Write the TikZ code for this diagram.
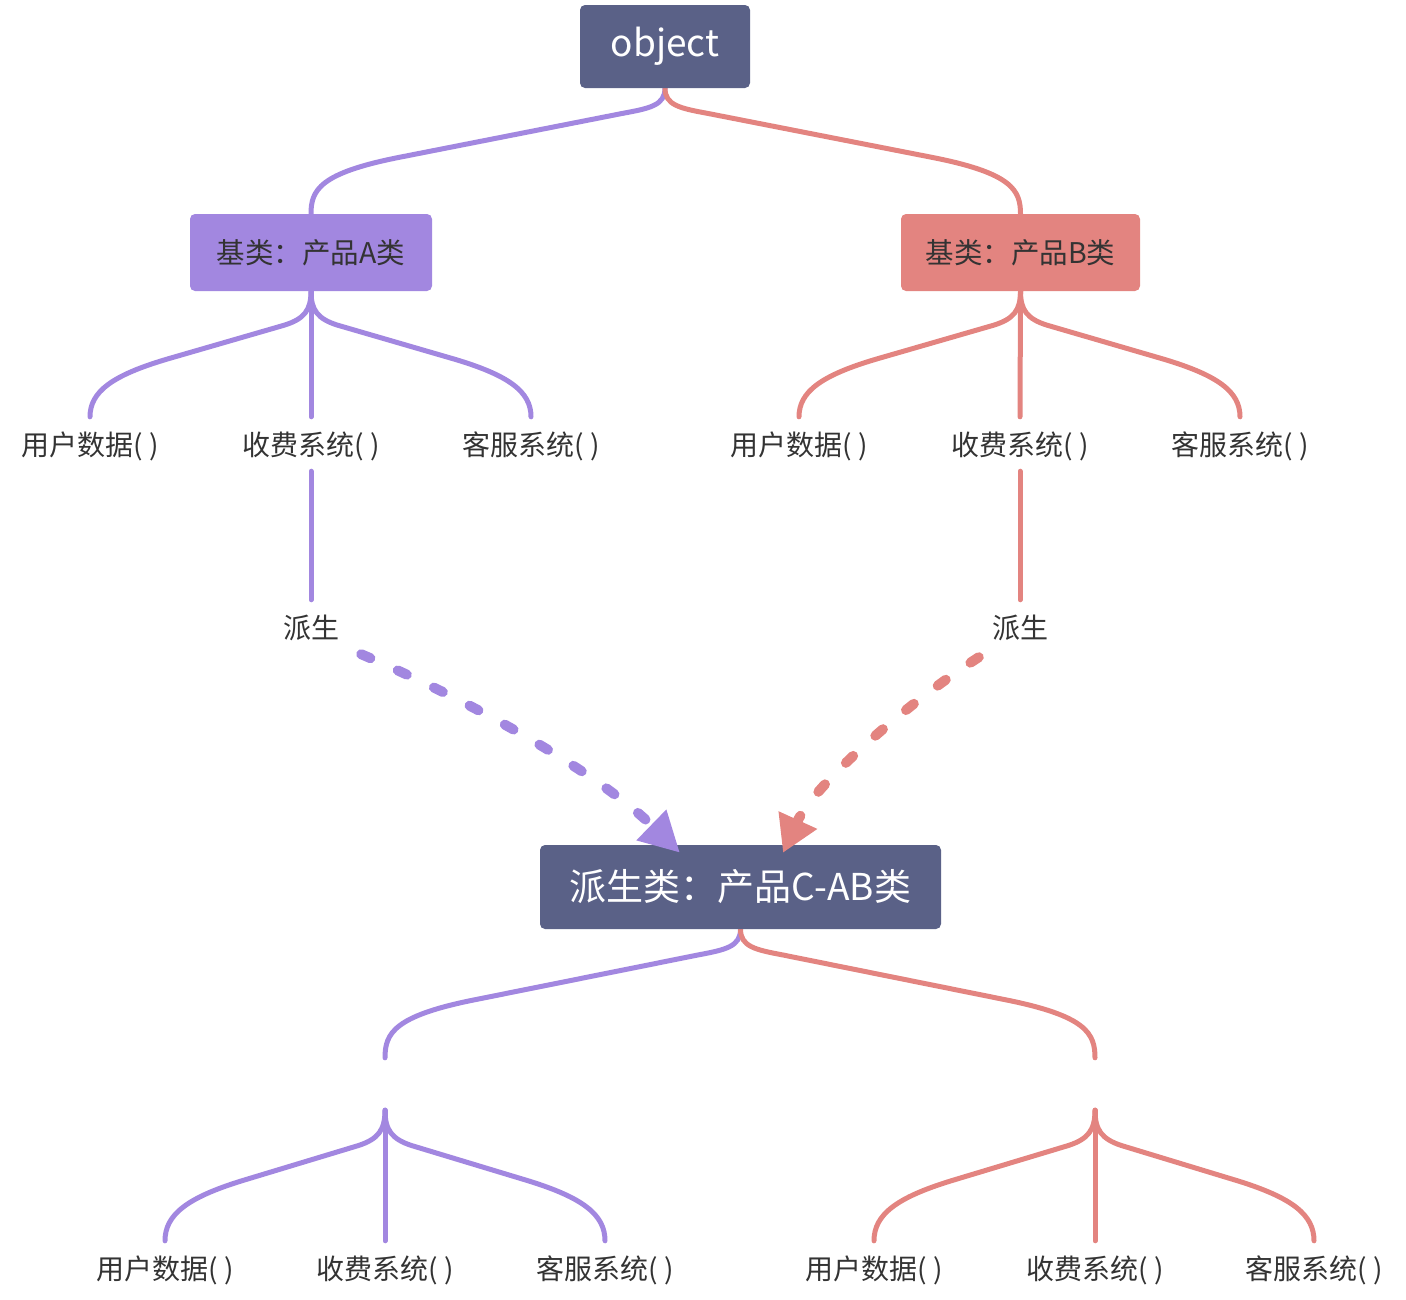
\documentclass[tikz,border=0pt]{standalone}
\usepackage{fontspec}
\setmainfont{Noto Sans CJK SC}
\usetikzlibrary{calc,arrows.meta,backgrounds}
\definecolor{dk}{HTML}{5A6187}
\definecolor{pu}{HTML}{A287E0}
\definecolor{rd}{HTML}{E38480}
\definecolor{tx}{HTML}{333333}

% big branch: parent -> child
\newcommand\bigbr[3]{\draw[#1] let \p1=(#2), \p2=(#3), \p3=($(\p2)-(\p1)$) in
  (\p1) .. controls ({\x1},{\y1+0.135*(\y3)}) and ({\x1+0.042*(\x3)},{\y1+0.16*(\y3)}) ..
  ({\x1+0.119*(\x3)},{\y1+0.2*(\y3)}) -- ({\x1+0.75*(\x3)},{\y1+0.55*(\y3)})
  .. controls ({\x1+0.975*(\x3)},{\y1+0.675*(\y3)}) and ({\x2},{\y1+0.81*(\y3)}) .. (\p2);}
% leaf branch
\newcommand\leafbr[3]{\draw[#1] let \p1=(#2), \p2=(#3), \p3=($(\p2)-(\p1)$) in
  (\p1) .. controls ({\x1},{\y1+0.15*(\y3)}) and ({\x1+0.03*(\x3)},{\y1+0.22*(\y3)}) ..
  ({\x1+0.12*(\x3)},{\y1+0.27*(\y3)}) -- ({\x1+0.65*(\x3)},{\y1+0.54*(\y3)})
  .. controls ({\x1+0.9*(\x3)},{\y1+0.67*(\y3)}) and ({\x2},{\y1+0.8*(\y3)}) .. (\p2);}

\tikzset{
  box/.style={rounded corners=5pt, inner sep=0pt, draw=none},
  leaf/.style={font=\fontsize{28}{32}\selectfont, text=tx, text height=23pt, text depth=1pt, inner ysep=15pt, inner xsep=20pt},
  conn/.style={line width=5pt, line cap=round},
  rel/.style={line width=10pt, line cap=round, dash pattern=on 10pt off 30pt},
}

\begin{document}
\begin{tikzpicture}[x=1pt,y=-1pt]
\useasboundingbox (0,0) rectangle (1406,1299);

\node[box, fill=dk, text=white, minimum width=170pt, minimum height=83pt, font=\fontsize{37}{42}\selectfont] (obj) at (665,46.5) {object};
\node[box, fill=pu, text=tx, minimum width=242pt, minimum height=77pt, font=\fontsize{28.5}{32}\selectfont] (A) at (311,252.5) {基类：产品A类};
\node[box, fill=rd, text=tx, minimum width=239pt, minimum height=77pt, font=\fontsize{28.5}{32}\selectfont] (B) at (1020.5,252.5) {基类：产品B类};
\node[box, fill=dk, text=white, minimum width=401pt, minimum height=84pt, font=\fontsize{37}{42}\selectfont] (C) at (740.5,887) {派生类：产品C-AB类};

\node[leaf] (a1) at (90,444) {用户数据( )};
\node[leaf] (a2) at (311,444) {收费系统( )};
\node[leaf] (a3) at (531,444) {客服系统( )};
\node[leaf] (b1) at (799,444) {用户数据( )};
\node[leaf] (b2) at (1020,444) {收费系统( )};
\node[leaf] (b3) at (1240,444) {客服系统( )};
\node[leaf] (pa) at (311,627) {派生};
\node[leaf] (pb) at (1020,627) {派生};

\node[minimum width=20pt, minimum height=52pt, inner sep=0pt] (cl) at (385,1084) {};
\node[minimum width=20pt, minimum height=52pt, inner sep=0pt] (cr) at (1095,1084) {};

\node[leaf] (c1) at (165,1268) {用户数据( )};
\node[leaf] (c2) at (385,1268) {收费系统( )};
\node[leaf] (c3) at (605,1268) {客服系统( )};
\node[leaf] (d1) at (874,1268) {用户数据( )};
\node[leaf] (d2) at (1095,1268) {收费系统( )};
\node[leaf] (d3) at (1314,1268) {客服系统( )};

\begin{scope}[on background layer]
\bigbr{conn,pu}{obj.south}{A.north}
\bigbr{conn,rd}{obj.south}{B.north}
\leafbr{conn,pu}{A.south}{a1.north}
\leafbr{conn,pu}{A.south}{a3.north}
\draw[conn,pu] (A.south) -- (a2.north);
\leafbr{conn,rd}{B.south}{b1.north}
\leafbr{conn,rd}{B.south}{b3.north}
\draw[conn,rd] (B.south) -- (b2.north);
\draw[conn,pu] (a2.south) -- (pa.north);
\draw[conn,rd] (b2.south) -- (pb.north);

\bigbr{conn,pu}{C.south}{cl.north}
\bigbr{conn,rd}{C.south}{cr.north}
\leafbr{conn,pu}{cl.south}{c1.north}
\leafbr{conn,pu}{cl.south}{c3.north}
\draw[conn,pu] (cl.south) -- (c2.north);
\leafbr{conn,rd}{cr.south}{d1.north}
\leafbr{conn,rd}{cr.south}{d3.north}
\draw[conn,rd] (cr.south) -- (d2.north);
\end{scope}

\draw[rel, pu, -{Triangle[length=40pt,width=40pt]}] ($(pa.south east)+(2,0)$) .. controls (480,705) and (600,775) .. ($(C.north)+(-60.5,8)$);
\draw[rel, rd, -{Triangle[length=36pt,width=40pt]}] ($(pb.south west)+(7,3)$) .. controls (900,708) and (813,787) .. ($(C.north)+(42.5,8)$);
\end{tikzpicture}
\end{document}
